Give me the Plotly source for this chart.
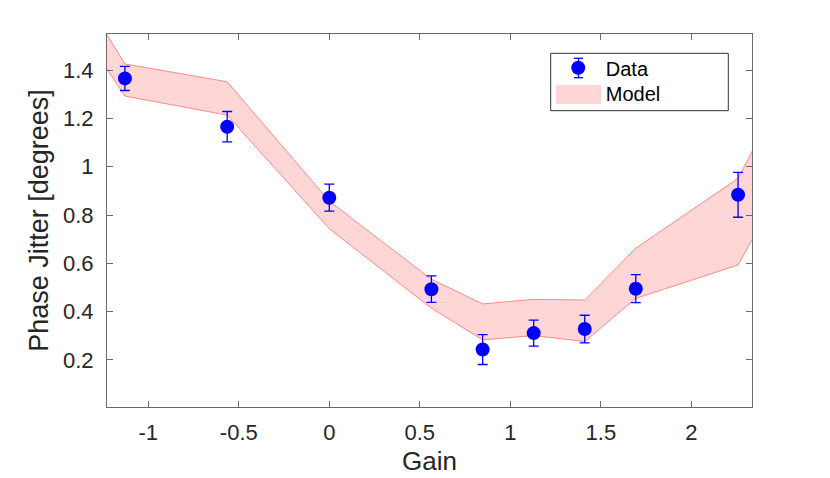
import plotly.graph_objects as go

# Measured data
gain = [-1.129, -0.564, 0.0, 0.564, 0.847, 1.129, 1.411, 1.693, 2.258]
jitter = [1.366, 1.166, 0.872, 0.493, 0.243, 0.311, 0.328, 0.495, 0.884]
jitter_err = [0.050, 0.063, 0.056, 0.055, 0.062, 0.054, 0.057, 0.058, 0.093]

# Model band (upper / lower bounds)
model_gain = [-1.411, -1.129, -0.564, 0.0, 0.564, 0.847, 1.129, 1.411, 1.693, 2.258, 2.540]
model_upper = [1.770, 1.426, 1.352, 0.858, 0.534, 0.432, 0.451, 0.448, 0.663, 0.952, 1.358]
model_lower = [1.609, 1.293, 1.214, 0.743, 0.414, 0.283, 0.301, 0.276, 0.455, 0.593, 0.974]

x_ticks = [-1, -0.5, 0, 0.5, 1, 1.5, 2]
y_ticks = [0.2, 0.4, 0.6, 0.8, 1.0, 1.2, 1.4]
y_ticktext = ["0.2", "0.4", "0.6", "0.8", "1", "1.2", "1.4"]

FONT = "Liberation Sans, Arial, sans-serif"
EDGE = "rgba(255,120,120,0.85)"
FILL = "rgba(255,0,0,0.16)"
BLUE = "#0000ff"

fig = go.Figure()

# Band fill
fig.add_trace(go.Scatter(
    x=model_gain + model_gain[::-1],
    y=model_upper + model_lower[::-1],
    fill="toself", mode="lines", fillcolor=FILL,
    line=dict(color="rgba(0,0,0,0)", width=0),
    name="Model", showlegend=False, hoverinfo="skip",
))
# Band outlines
fig.add_trace(go.Scatter(x=model_gain, y=model_upper, mode="lines",
                         line=dict(color=EDGE, width=1), showlegend=False, hoverinfo="skip"))
fig.add_trace(go.Scatter(x=model_gain, y=model_lower, mode="lines",
                         line=dict(color=EDGE, width=1), showlegend=False, hoverinfo="skip"))

# Legend entry for the model (swatch drawn as a shape)
fig.add_trace(go.Scatter(
    x=[None], y=[None], mode="lines", fill="toself",
    fillcolor="rgba(0,0,0,0)", line=dict(color="rgba(0,0,0,0)", width=0),
    name="Model", legend="legend2",
))

fig.add_trace(go.Scatter(
    x=gain, y=jitter, mode="markers",
    marker=dict(color=BLUE, size=14),
    error_y=dict(type="data", array=jitter_err, color=BLUE, thickness=1.3, width=5),
    name="Data", legend="legend",
))

axis_common = dict(
    showline=True, linecolor="#6b6b6b", linewidth=1, mirror="ticks",
    ticks="inside", ticklen=6, tickcolor="#6b6b6b", tickwidth=1,
    showgrid=False, zeroline=False, automargin=False,
    tickfont=dict(family=FONT, size=22, color="#262626"),
)

# plot area in pixels: x 107..752, y 34..407
def px(x):
    return (x - 107) / 645.0

def py(y):
    return (407 - y) / 373.0

legend_common = dict(
    x=0.688, xanchor="left", yanchor="middle",
    borderwidth=0, bgcolor="rgba(0,0,0,0)", itemwidth=45,
    font=dict(family=FONT, size=20, color="#000000"),
)

mx = 578.5
shapes = [
    # legend box
    dict(type="rect", xref="paper", yref="paper",
         x0=px(550.7), x1=px(728.3), y0=py(110.7), y1=py(53.3),
         line=dict(color="#333333", width=1), fillcolor="white", layer="below"),
    # model swatch
    dict(type="rect", xref="paper", yref="paper",
         x0=px(556), x1=px(601), y0=py(104), y1=py(85),
         line=dict(width=0), fillcolor="#ffd6d6", layer="above"),
    # data legend error bar
    dict(type="line", xref="paper", yref="paper",
         x0=px(mx), x1=px(mx), y0=py(77.7), y1=py(58.3),
         line=dict(color=BLUE, width=1.3), layer="above"),
    dict(type="line", xref="paper", yref="paper",
         x0=px(mx - 4.5), x1=px(mx + 4.5), y0=py(58.3), y1=py(58.3),
         line=dict(color=BLUE, width=1.3), layer="above"),
    dict(type="line", xref="paper", yref="paper",
         x0=px(mx - 4.5), x1=px(mx + 4.5), y0=py(77.7), y1=py(77.7),
         line=dict(color=BLUE, width=1.3), layer="above"),
]

fig.update_layout(
    width=822, height=470,
    margin=dict(l=99, r=78, t=26, b=71),
    paper_bgcolor="white", plot_bgcolor="white",
    font=dict(family=FONT, color="#262626"),
    xaxis=dict(range=[-1.228, 2.335], tickvals=x_ticks,
               ticktext=[str(v) for v in x_ticks],
               ticklabelstandoff=6,
               title=dict(text="Gain", font=dict(family=FONT, size=26), standoff=7),
               **axis_common),
    yaxis=dict(range=[0.005, 1.55], tickvals=y_ticks,
               ticktext=y_ticktext,
               ticklabelstandoff=8,
               title=dict(text="Phase Jitter [degrees]", font=dict(family=FONT, size=27), standoff=6),
               **axis_common),
    legend=dict(y=py(67.7), **legend_common),
    legend2=dict(y=py(93.3), **legend_common),
    shapes=shapes,
    showlegend=True,
)

fig.write_html("out.html")
